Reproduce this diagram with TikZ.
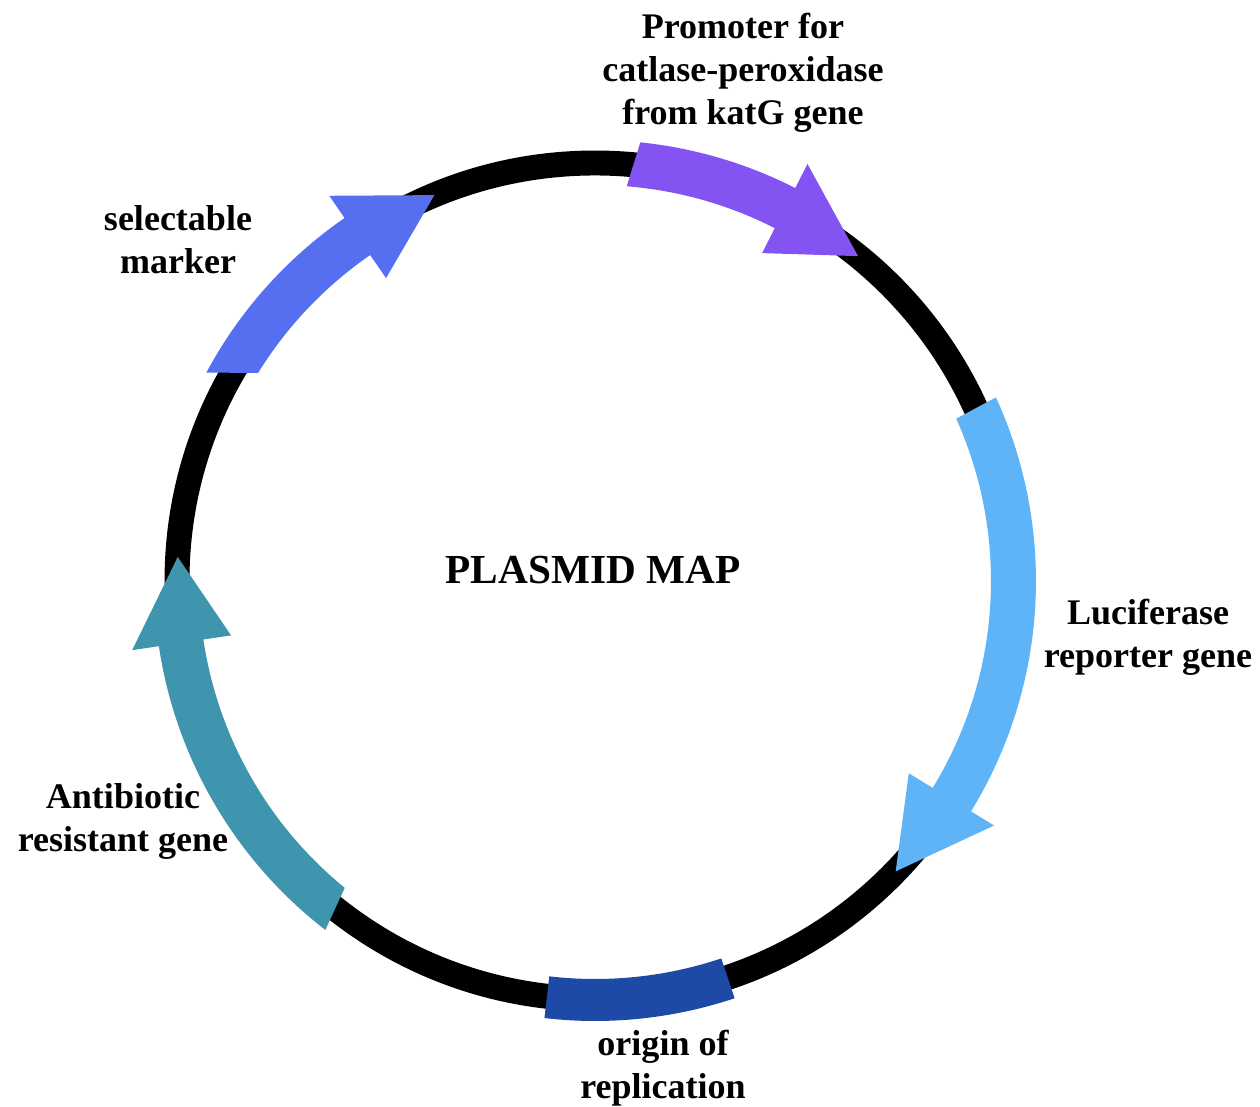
\documentclass[tikz,border=0pt]{standalone}
\usepackage{fontspec}
\setmainfont{Liberation Serif}
\definecolor{promcol}{RGB}{131,84,242}
\definecolor{markcol}{RGB}{86,111,241}
\definecolor{lucicol}{RGB}{95,179,247}
\definecolor{origcol}{RGB}{30,74,167}
\definecolor{abcol}{RGB}{63,148,174}
\begin{document}
\begin{tikzpicture}[x=0.02cm, y=0.02cm,
        genetext/.style={align=center, font=\bfseries\fontsize{20.5}{24.5}\selectfont}]
            \useasboundingbox (0,0) rectangle (1260,1106);
            \begin{scope}[shift={(595,525)}]
            \coordinate (c) at (0,0);
            % backbone
            \path [draw, line width=14.2pt] (c) circle [radius=418];
            % genes, all running clockwise: outer start / inner start / head base / tip
            \foreach \so/\si/\b/\t/\col in {84.1/85.4/63/51/promcol, 24.6/24.2/-31.5/-44/lucicol,
                                      232.3/230.8/188.5/176.7/abcol, 151.8/148.3/124.6/112.6/markcol}
              \path [fill=\col] (\so:441) arc [start angle=\so, end angle=\b, radius=441]
                  -- (\b:468) -- (\t:418) -- (\b:368) -- (\b:396)
                  arc [start angle=\b, end angle=\si, radius=396] -- cycle;
            % origin of replication
            \path [fill=origcol] (-96.6:440) arc [start angle=-96.6, end angle=-71.5, radius=440]
                -- (-71.5:398) arc [start angle=-71.5, end angle=-96.6, radius=398] -- cycle;
            \end{scope}
            \node [genetext] (promoter) at (743,1033) {Promoter for\\catlase-peroxidase\\from katG gene};
            \node [genetext] (marker) at (178,866) {selectable\\marker};
            \node [genetext] (luciferase) at (1148,469) {Luciferase\\reporter gene};
            \node [genetext] (antibiotic) at (123,285) {Antibiotic\\resistant gene};
            \node [genetext] (origin) at (663,38) {origin of\\replication};
            \node [font=\bfseries\fontsize{23.5}{28}\selectfont] (title) at (593,536) {PLASMID MAP};
        \end{tikzpicture}
\end{document}
